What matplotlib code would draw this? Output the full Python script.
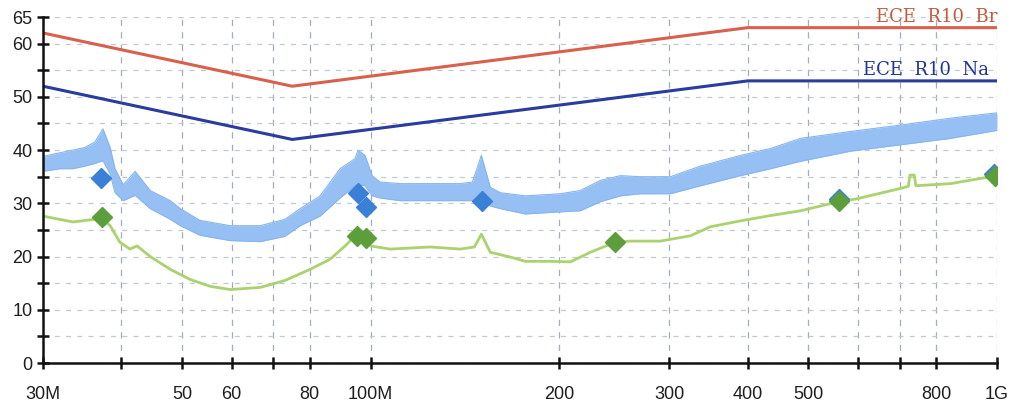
import matplotlib
matplotlib.use('Agg')
import matplotlib.pyplot as plt
from matplotlib.ticker import FixedLocator, NullLocator

# ---- data (MHz, dBuV/m) ----
limit_freq = [30, 75, 400, 1000]
limit_br = [62, 52, 63, 63]
limit_na = [52, 42, 53, 53]

peak_freq = [30.0, 31.9, 33.5, 35.0, 36.3, 37.4, 38.4, 39.1, 40.3, 42.1, 44.5, 47.9,
             49.7, 53.4, 59.7, 66.7, 73.0, 77.2, 83.1, 89.4, 94.5, 95.5, 98.0, 100.6,
             103.6, 111.5, 124.6, 139.1, 145.4, 150.3, 155.3, 161.1, 176.6, 200.9,
             216.2, 232.7, 250.5, 269.7, 301.1, 336.3, 389.5, 435.0, 485.8, 583.9,
             701.7, 843.3, 1000]
peak_lo = [36.0, 36.5, 36.5, 37.0, 37.5, 38.0, 35.5, 32.0, 30.5, 31.5, 29.0, 27.0,
           25.8, 24.0, 23.0, 22.8, 23.8, 25.8, 27.6, 31.0, 33.3, 33.5, 33.3, 31.4,
           31.0, 30.5, 30.5, 30.5, 30.5, 31.0, 29.5, 29.0, 28.0, 28.4,
           28.6, 30.3, 31.4, 31.8, 31.8, 33.3, 35.2, 36.5, 37.9, 39.8,
           41.0, 42.2, 43.7]
peak_hi = [38.8, 39.5, 40.0, 40.5, 41.5, 44.0, 40.5, 36.5, 33.5, 36.0, 32.4, 30.5,
           29.0, 26.8, 25.8, 25.8, 27.0, 29.0, 31.4, 36.5, 38.4, 40.0, 39.0, 35.2,
           34.0, 33.7, 33.7, 33.7, 34.0, 39.0, 33.0, 32.0, 31.4, 31.8,
           32.4, 34.3, 35.2, 35.0, 35.0, 37.0, 39.0, 40.3, 42.2, 43.5,
           44.7, 46.0, 47.0]

avg_freq = [30.0, 33.5, 36.3, 37.4, 38.4, 39.8, 41.3, 42.4, 44.5, 47.9, 51.5, 55.5,
            59.7, 66.7, 73.0, 80.1, 86.2, 91.1, 94.5, 98.0, 99.9, 107.5, 124.6, 139.1,
            146.5, 150.3, 155.3, 167.2, 176.6, 193.7, 208.5, 224.3, 245.9, 259.9,
            290.2, 324.0, 348.9, 389.5, 435.0, 485.8, 558.6, 594.7, 701.7, 722.0,
            726.0, 738.0, 742.0, 843.3, 1000]
avg_db = [27.6, 26.5, 27.0, 27.0, 25.8, 22.7, 21.4, 22.0, 20.0, 17.6, 15.7, 14.4,
          13.8, 14.2, 15.5, 17.6, 19.5, 22.0, 23.9, 23.7, 22.0, 21.4, 21.8, 21.4,
          21.8, 24.2, 20.8, 19.9, 19.1, 19.1, 19.0, 20.8, 22.7, 22.9,
          22.9, 23.9, 25.6, 26.7, 27.7, 28.6, 30.3, 30.8, 32.8, 33.2,
          35.3, 35.3, 33.3, 33.7, 35.2]

qp_freq = [37.1, 95.5, 98.4, 150.8, 560.0, 990.0]
qp_db = [34.7, 32.0, 29.4, 30.5, 30.9, 35.6]
av_mark_freq = [37.3, 95.2, 98.4, 245.9, 558.6, 992.0]
av_mark_db = [27.5, 23.9, 23.5, 22.7, 30.5, 35.2]

xticks = [30, 40, 50, 60, 70, 80, 100, 200, 300, 400, 500, 600, 700, 800, 1000]
xticklabels = ['30M', '', '50', '60', '', '80', '100M', '200', '300', '400', '500',
               '', '', '800', '1G']
ymajor = [0, 10, 20, 30, 40, 50, 60, 65]
yminor = [5, 15, 25, 35, 45, 55]
label_br = 'ECE  R10  Br'
label_na = 'ECE  R10  Na'

# ---- figure ----
plt.rcParams['font.family'] = ['Liberation Sans', 'DejaVu Sans']
fig = plt.figure(figsize=(10.13, 4.07), dpi=100)
ax = fig.add_axes([0.0424, 0.1081, 0.9418, 0.8501])
ax.set_xscale('log')
ax.set_xlim(30, 1000)
ax.set_ylim(0, 65)

ax.xaxis.set_major_locator(FixedLocator(xticks))
ax.xaxis.set_minor_locator(NullLocator())
ax.set_xticklabels(xticklabels)
ax.yaxis.set_major_locator(FixedLocator(ymajor))
ax.yaxis.set_minor_locator(FixedLocator(yminor))

for s in ['top', 'right']:
    ax.spines[s].set_visible(False)
for s in ['left', 'bottom']:
    ax.spines[s].set_linewidth(1.8)
    ax.spines[s].set_color('#111111')
    ax.spines[s].set_zorder(6)

ax.tick_params(axis='both', which='both', direction='inout', length=9, width=1.8,
               colors='#111111', labelsize=13, labelcolor='#1e1e1e')
ax.tick_params(axis='x', pad=12)
ax.tick_params(axis='y', pad=3)

ax.set_axisbelow(True)
ax.grid(True, axis='x', which='major', color='#a3acbc', linestyle=(0, (5, 5)), lw=0.9)
ax.grid(True, axis='y', which='both', color='#c2c8d3', linestyle=(0, (4, 5)), lw=0.9)

# traces
ax.fill_between(peak_freq, peak_lo, peak_hi, color='#96c0f4', lw=0, zorder=2)
ax.plot(peak_freq, peak_hi, color='#88b5f0', lw=0.8, zorder=2)
ax.plot(peak_freq, peak_lo, color='#88b5f0', lw=0.8, zorder=2)
ax.plot(avg_freq, avg_db, color='#aad26e', lw=2.0, zorder=3)

# limit lines
ax.plot(limit_freq, limit_br, color='#d9604c', lw=2.2, zorder=3)
ax.plot(limit_freq, limit_na, color='#2a3c9e', lw=2.2, zorder=3)

# markers
ax.plot(qp_freq, qp_db, linestyle='none', marker='D', markersize=10,
        color='#3a80d6', zorder=5)
ax.plot(av_mark_freq, av_mark_db, linestyle='none', marker='D', markersize=10,
        color='#5c9e3c', zorder=5)

ax.text(1000, 65, label_br, ha='right', va='center', color='#c45a3c',
        fontfamily='DejaVu Serif', fontsize=13, clip_on=False, zorder=6)
ax.text(970, 55, label_na, ha='right', va='center', color='#22349a',
        fontfamily='DejaVu Serif', fontsize=13, clip_on=False, zorder=6)

fig.savefig('out.png', dpi=100)
